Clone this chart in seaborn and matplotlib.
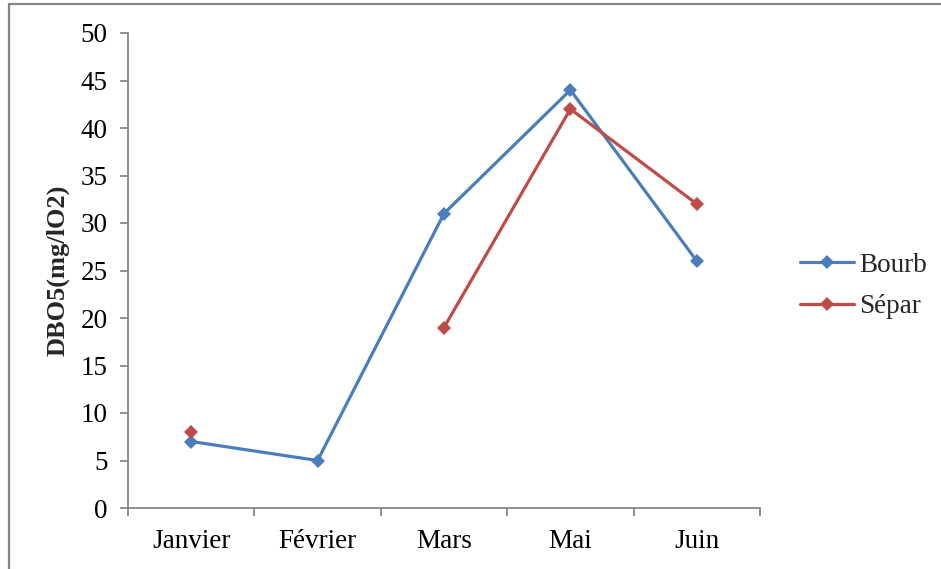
import numpy as np
import pandas as pd
import matplotlib
matplotlib.use("Agg")
import matplotlib.pyplot as plt
import seaborn as sns
from matplotlib.lines import Line2D
from matplotlib.patches import Rectangle

months = ["Janvier", "Février", "Mars", "Mai", "Juin"]
bourb = [7, 5, 31, 44, 26]
separ = [8, np.nan, 19, 42, 32]
series_names = ["Bourb", "Sépar"]
colors = {"Bourb": "#4A7EBB", "Sépar": "#BE4B48"}
yticks = [0, 5, 10, 15, 20, 25, 30, 35, 40, 45, 50]


def to_long(name, values):
    rows = []
    seg = 0
    for i, v in enumerate(values):
        if pd.isna(v):
            seg += 1  # a missing month breaks the line
            continue
        rows.append({"pos": i, "val": v, "series": name, "seg": f"{name}-{seg}"})
    return rows


df = pd.DataFrame(to_long("Bourb", bourb) + to_long("Sépar", separ))

sns.set_theme(style="white")
plt.rcParams["font.family"] = ["Liberation Serif", "DejaVu Serif"]

fig = plt.figure(figsize=(9.41, 5.69), dpi=100)
ax = fig.add_axes([128 / 941, 1 - 508 / 569, (760 - 128) / 941, (508 - 33) / 569])

sns.lineplot(data=df, x="pos", y="val", hue="series", units="seg",
             estimator=None, palette=colors, hue_order=series_names,
             marker="D", markersize=7, markeredgewidth=0, linewidth=2.3,
             legend=False, ax=ax, sort=True)

ax.set_xlim(-0.5, len(months) - 0.5)
ax.set_ylim(0, 50)
ax.set_yticks(yticks)
ax.set_xticks(range(len(months)))
ax.set_xticklabels(months)
ax.set_xticks(np.arange(-0.5, len(months), 1.0), minor=True)
ax.tick_params(axis="x", which="major", length=0, pad=15, labelsize=19.5, colors="black")
ax.tick_params(axis="x", which="minor", length=5.5, width=1.3, color="#868686", direction="out", bottom=True)
ax.tick_params(axis="y", which="major", length=5.5, width=1.3, color="#868686", direction="out",
               left=True, pad=9, labelsize=19.5, labelcolor="black")

for side in ("top", "right"):
    ax.spines[side].set_visible(False)
for side in ("left", "bottom"):
    ax.spines[side].set_color("#868686")
    ax.spines[side].set_linewidth(1.3)

ax.set_xlabel("")
ax.set_ylabel("DBO5(mg/lO2)", fontsize=19, fontweight="bold", labelpad=8)

handles = [Line2D([0], [0], color=colors[n], lw=2.3, marker="D", markersize=7,
                  markeredgewidth=0) for n in series_names]
fig.legend(handles, series_names, loc="center left", bbox_to_anchor=(800 / 941, 1 - 286 / 569),
           frameon=False, fontsize=19.5, handlelength=2.0, handletextpad=0.2,
           labelspacing=0.6, borderaxespad=0, borderpad=0)

fig.patches.append(Rectangle((8.5 / 941, -0.05), 1.0, 1 - 3.5 / 569 + 0.05,
                             transform=fig.transFigure, fill=False,
                             edgecolor="#868686", linewidth=1.6))

fig.savefig("out.png", dpi=100)
